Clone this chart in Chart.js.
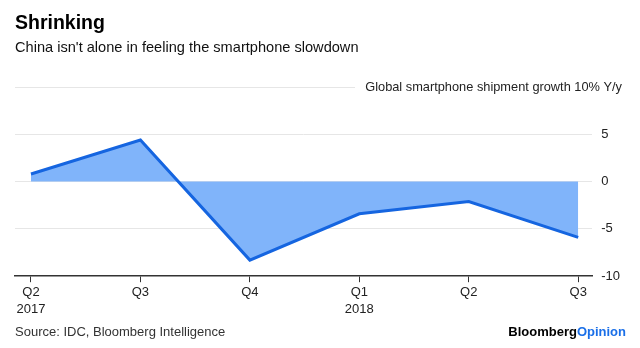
<!DOCTYPE html>
<html>
<head>
<meta charset="utf-8">
<script src="https://cdn.jsdelivr.net/npm/chart.js@4.4.1/dist/chart.umd.min.js"></script>
<style>
  html, body { margin: 0; padding: 0; background: #fff; }
  #wrap { width: 640px; height: 348px; position: relative; }
</style>
</head>
<body>
<div id="wrap"><canvas id="chart"></canvas></div>
<script>
// quarters, two-line labels
const categories = [["Q2", "2017"], ["Q3", ""], ["Q4", ""], ["Q1", "2018"], ["Q2", ""], ["Q3", ""]];
// global smartphone shipment growth, % y/y
const growth = [0.8, 4.4, -8.3, -3.4, -2.1, -5.9];
const yTicks = [-10, -5, 0, 5, 10];

const FONT = "'Liberation Sans', Arial, sans-serif";
const LINE_BLUE = "#1565e0";
const FILL_BLUE = "#80b4fa";
const GRID = "#e6e6e6";

// title, subtitle, top gridline label and footer
const decorations = {
  id: "decorations",
  afterDraw(chart) {
    const { ctx, chartArea, scales } = chart;
    ctx.save();

    ctx.textBaseline = "alphabetic";
    ctx.textAlign = "left";
    ctx.fillStyle = "#000";
    ctx.font = `bold 19.5px ${FONT}`;
    ctx.fillText("Shrinking", 15, 29);

    ctx.fillStyle = "#111";
    ctx.font = `14.6px ${FONT}`;
    ctx.fillText("China isn't alone in feeling the smartphone slowdown", 15, 52);

    // top (10) gridline stops short of its long label
    const yTop = Math.round(scales.y.getPixelForValue(yTicks[yTicks.length - 1])) + 0.5;
    ctx.strokeStyle = GRID;
    ctx.lineWidth = 1;
    ctx.beginPath();
    ctx.moveTo(chartArea.left, yTop);
    ctx.lineTo(355, yTop);
    ctx.stroke();

    ctx.font = `12.8px ${FONT}`;
    ctx.fillStyle = "#222";
    ctx.textAlign = "right";
    ctx.textBaseline = "middle";
    ctx.fillText("Global smartphone shipment growth 10% Y/y", 622, yTop);

    // footer
    ctx.textAlign = "left";
    ctx.fillStyle = "#333";
    ctx.font = `13px ${FONT}`;
    ctx.fillText("Source: IDC, Bloomberg Intelligence", 15, 332);

    ctx.font = `bold 13px ${FONT}`;
    const w1 = ctx.measureText("Bloomberg").width;
    const w2 = ctx.measureText("Opinion").width;
    const x0 = 626 - w1 - w2;
    ctx.fillStyle = "#000";
    ctx.fillText("Bloomberg", x0, 332);
    ctx.fillStyle = "#1a6fe8";
    ctx.fillText("Opinion", x0 + w1, 332);

    ctx.restore();
  }
};

const chart = new Chart(document.getElementById("chart"), {
  type: "line",
  data: {
    datasets: [
      {
        data: growth.map((v, i) => ({ x: i, y: v })),
        borderColor: LINE_BLUE,
        backgroundColor: FILL_BLUE,
        borderWidth: 3,
        fill: "origin",
        tension: 0,
        pointRadius: 0,
        borderJoinStyle: "miter",
      },
    ],
  },
  options: {
    responsive: true,
    maintainAspectRatio: false,
    animation: false,
    layout: { padding: { top: 87, left: 15, right: 11, bottom: 28 } },
    plugins: {
      legend: { display: false },
      tooltip: { enabled: false },
    },
    scales: {
      x: {
        type: "linear",
        min: -0.146,
        max: categories.length - 1 + 0.128,
        afterBuildTicks: (scale) => {
          scale.ticks = categories.map((c, i) => ({ value: i }));
        },
        ticks: {
          autoSkip: false,
          maxRotation: 0,
          padding: 2,
          color: "#222",
          font: { family: FONT, size: 13, lineHeight: 1.3 },
          callback: (v) => categories[v],
        },
        grid: {
          drawOnChartArea: false,
          drawTicks: true,
          tickLength: 6,
          color: "#333",
          lineWidth: 1,
        },
        border: { display: true, color: "#333", width: 1.5 },
      },
      y: {
        position: "right",
        min: yTicks[0],
        max: yTicks[yTicks.length - 1],
        afterBuildTicks: (scale) => {
          scale.ticks = yTicks.map((v) => ({ value: v }));
        },
        ticks: {
          padding: 9,
          color: "#222",
          font: { family: FONT, size: 13 },
          callback: (v) => (v === yTicks[yTicks.length - 1] ? "" : v),
        },
        grid: {
          drawTicks: false,
          color: (c) =>
            c.tick && (c.tick.value === yTicks[0] || c.tick.value === yTicks[yTicks.length - 1])
              ? "rgba(0,0,0,0)"
              : GRID,
        },
        border: { display: false },
      },
    },
  },
  plugins: [decorations],
});
</script>
</body>
</html>
